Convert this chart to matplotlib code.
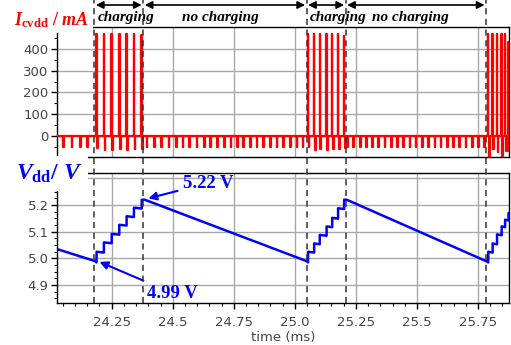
import numpy as np
import matplotlib
matplotlib.use('Agg')
from matplotlib import pyplot as plt
from matplotlib.lines import Line2D
from matplotlib.ticker import MultipleLocator

# time window shown (ms)
T_MIN, T_MAX = 24.026, 25.877

# phase boundaries (dashed lines) and phase names
phase_t = [24.179, 24.379, 25.048, 25.208, 25.783]
phase_lbl = ['charging', 'no charging', 'charging', 'no charging']

# charging pulses: time (ms), peak (mA), dip right after (mA)
pulse_t = [24.188, 24.218, 24.25, 24.281, 24.311, 24.341, 24.373,
           25.054, 25.079, 25.102, 25.13, 25.153, 25.177, 25.202,
           25.792, 25.81, 25.828, 25.847, 25.861, 25.875]
pulse_pk = [470, 470, 470, 470, 470, 470, 465,
            470, 470, 470, 470, 470, 470, 460,
            470, 470, 470, 470, 470, 430]
pulse_dip = [-55, -62, -62, -60, -62, -58, -60,
             -52, -62, -58, -62, -60, -58, -55,
             -95, -60, -75, -95, -70, -70]

# load dips while not charging
dip_t = [24.052, 24.086, 24.12, 24.15,
         24.393, 24.423, 24.453, 24.483, 24.513, 24.541, 24.568, 24.598,
         24.628, 24.653, 24.682, 24.71, 24.737, 24.764, 24.789, 24.816,
         24.843, 24.87, 24.898, 24.925, 24.952, 24.98, 25.007, 25.032,
         25.215, 25.24, 25.266, 25.291, 25.317, 25.342, 25.368, 25.393,
         25.419, 25.444, 25.47, 25.495, 25.521, 25.546, 25.572, 25.597,
         25.623, 25.648, 25.674, 25.699, 25.725, 25.75, 25.774]
DIP_MA = -50

# Vdd trace vertices (ms, V)
volt_t = [24.026, 24.182, 24.188, 24.188, 24.218, 24.218, 24.25, 24.25, 24.281, 24.281,
          24.311, 24.311, 24.341, 24.341, 24.373, 24.373, 24.385,
          25.048, 25.054, 25.054, 25.079, 25.079, 25.102, 25.102, 25.13, 25.13,
          25.153, 25.153, 25.177, 25.177, 25.202, 25.202, 25.212,
          25.783, 25.792, 25.792, 25.81, 25.81, 25.828, 25.828, 25.847, 25.847,
          25.861, 25.861, 25.875, 25.875, 25.877]
volt_v = [5.035, 4.99, 4.985, 5.025, 5.022, 5.06, 5.057, 5.092, 5.089, 5.126,
          5.123, 5.158, 5.155, 5.19, 5.187, 5.22, 5.22,
          4.99, 4.985, 5.025, 5.022, 5.056, 5.053, 5.088, 5.085, 5.12,
          5.117, 5.152, 5.149, 5.188, 5.185, 5.22, 5.22,
          4.99, 4.985, 5.025, 5.022, 5.056, 5.053, 5.09, 5.087, 5.12,
          5.117, 5.145, 5.142, 5.17, 5.17]

x_ticks = [24.25, 24.5, 24.75, 25.0, 25.25, 25.5, 25.75]
x_tick_lbl = ['24.25', '24.5', '24.75', '25.0', '25.25', '25.5', '25.75']
i_ticks = [0, 100, 200, 300, 400]
v_ticks = [4.9, 5.0, 5.1, 5.2]

plt.rcParams['mathtext.fontset'] = 'custom'
plt.rcParams['mathtext.it'] = 'Liberation Serif:italic:bold'
plt.rcParams['mathtext.bf'] = 'Liberation Serif:bold'
plt.rcParams['mathtext.rm'] = 'Liberation Serif:bold'

W, H = 511, 345
fig = plt.figure(figsize=(W / 100, H / 100), dpi=100)


def px_box(l, t, r, b):
    return [l / W, 1 - b / H, (r - l) / W, (b - t) / H]


ax1 = fig.add_axes(px_box(57, 27, 509, 157))
ax2 = fig.add_axes(px_box(57, 173, 509, 303))

# build current waveform
ev = [(t, pk, dp) for t, pk, dp in zip(pulse_t, pulse_pk, pulse_dip)]
ev += [(t, None, DIP_MA) for t in dip_t]
ev.sort(key=lambda e: e[0])
cur_t, cur_v = [T_MIN], [0.0]
for t, pk, dp in ev:
    if pk is not None:
        cur_t += [t - 0.001, t - 0.001, t + 0.001, t + 0.001]
        cur_v += [0, pk, pk, 0]
        t = t + 0.003
    cur_t += [t, t, t + 0.003, t + 0.003]
    cur_v += [0, dp, dp, 0]
cur_t.append(T_MAX)
cur_v.append(0)

grid_kw = dict(color='#a8a8a8', lw=1.0)
tick_col = '#444444'

ax1.plot(cur_t, cur_v, color='#ff0000', lw=1.6, zorder=3)
ax1.set_xlim(T_MIN, T_MAX)
ax1.set_ylim(-96, 500)
ax1.set_yticks(i_ticks)
ax1.set_xticks(x_ticks)
ax1.yaxis.set_minor_locator(MultipleLocator(50))
ax1.tick_params(axis='x', length=0, labelbottom=False)

ax2.plot(volt_t, volt_v, color='#0000ff', lw=1.8, zorder=3)
ax2.set_xlim(T_MIN, T_MAX)
ax2.set_ylim(4.833, 5.32)
ax2.set_yticks(v_ticks)
ax2.set_yticklabels(['4.9', '5.0', '5.1', '5.2'])
ax2.set_xticks(x_ticks)
ax2.set_xticklabels(x_tick_lbl)
ax2.yaxis.set_minor_locator(MultipleLocator(0.025))
ax2.xaxis.set_minor_locator(MultipleLocator(0.05))
ax2.axhline(5.3, zorder=0.5, **grid_kw)
ax2.set_xlabel('time (ms)', fontsize=9.5, color=tick_col, labelpad=2)

for ax in (ax1, ax2):
    ax.grid(True, zorder=0, **grid_kw)
    ax.set_axisbelow(True)
    ax.tick_params(which='major', direction='out', length=4, width=1,
                   labelsize=9.5, labelcolor=tick_col, pad=2)
    ax.tick_params(which='minor', direction='out', length=2, width=0.8)
    for s in ax.spines.values():
        s.set_linewidth(1.0)
ax1.tick_params(axis='x', which='both', length=0)
ax2.tick_params(axis='x', which='major', pad=5)

# dashed phase boundaries across both panels
y_bot = 1 - 303 / H
for t in phase_t:
    xf = fig.transFigure.inverted().transform(ax1.transData.transform((t, 0)))[0]
    fig.add_artist(Line2D([xf, xf], [y_bot, 1.0], transform=fig.transFigure,
                          color='#333333', lw=1.1, ls=(0, (4, 3)), zorder=5))

# phase arrows and names
arr_y = 1 - 5 / H
txt_y = 1 - 17 / H
for i, name in enumerate(phase_lbl):
    x0 = fig.transFigure.inverted().transform(ax1.transData.transform((phase_t[i], 0)))[0]
    x1 = fig.transFigure.inverted().transform(ax1.transData.transform((phase_t[i + 1], 0)))[0]
    fig.add_artist(matplotlib.patches.FancyArrowPatch(
        (x0 + 0.003, arr_y), (x1 - 0.003, arr_y), transform=fig.transFigure,
        arrowstyle='<|-|>', mutation_scale=11, color='black', lw=1.2,
        shrinkA=0, shrinkB=0))
    if name == 'charging':
        fig.text(x0 + 3 / W, txt_y, name, ha='left', va='center', fontsize=11,
                 family='Liberation Serif', weight='bold', style='italic')
    else:
        fig.text((x0 + x1) / 2 - 5 / W, txt_y, name, ha='center', va='center',
                 fontsize=11, family='Liberation Serif', weight='bold',
                 style='italic')

# panel labels
fig.text(14 / W, 1 - 25 / H, r'$I_{\mathbf{cvdd}}\ /\ mA$', color='#ff0000',
         fontsize=13, va='baseline', ha='left', zorder=6,
         bbox=dict(facecolor='white', edgecolor='none', pad=2.5))
fig.text(16 / W, 1 - 180 / H, r'$V_{\mathbf{dd}}/\ V$', color='#0000ff',
         fontsize=17, va='baseline', ha='left', zorder=6,
         bbox=dict(facecolor='white', edgecolor='none', pad=4))

# value callouts
ann_kw = dict(color='#0000ff', fontsize=13.5, family='Liberation Serif',
              weight='bold', textcoords='figure pixels', ha='left', va='center',
              arrowprops=dict(arrowstyle='-|>', color='#0000ff', lw=1.5,
                              mutation_scale=12, shrinkA=2, shrinkB=0))
ax2.annotate('5.22 V', xy=(24.40, 5.225), xytext=(183, H - 183), **ann_kw)
ax2.annotate('4.99 V', xy=(24.20, 4.987), xytext=(147, H - 293), **ann_kw)

fig.savefig('out.png', dpi=100)
